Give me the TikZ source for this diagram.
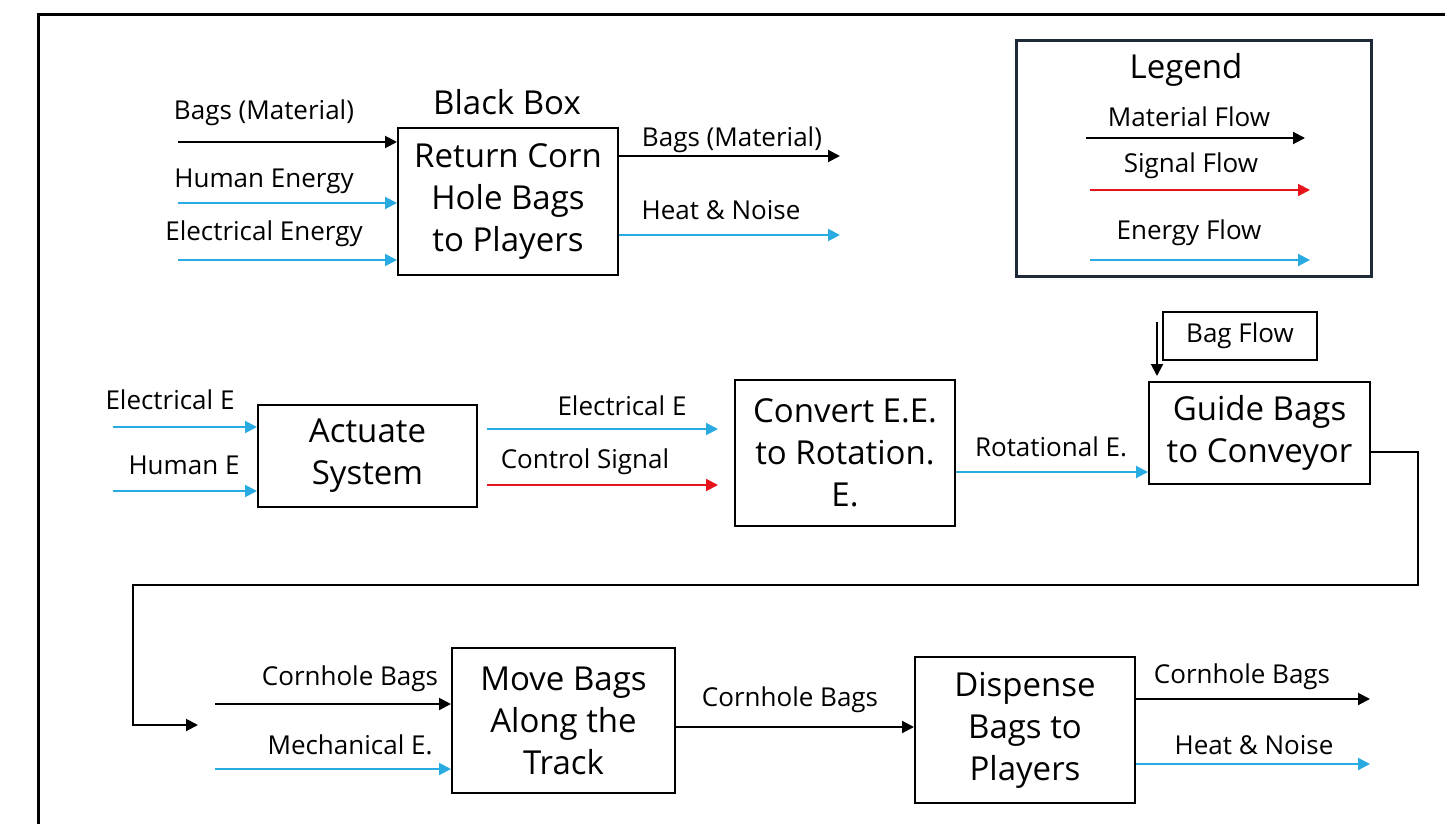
\documentclass[tikz,border=0pt]{standalone}
\usepackage{fontspec}
\setmainfont{Open Sans}
\usetikzlibrary{arrows.meta}
\definecolor{flowblue}{RGB}{41,171,226}
\definecolor{flowred}{RGB}{232,20,27}
\definecolor{legendline}{RGB}{30,42,56}

\begin{document}
\begin{tikzpicture}
                \tikzset{x=0.5pt, y=-0.5pt}
                \tikzstyle{func}=[rectangle, draw, line width=1pt, align=center, inner sep=0pt, font=\fontsize{16.5}{21}\selectfont]
                \tikzstyle{title}=[inner sep=0pt, font=\fontsize{16.5}{21}\selectfont]
                \tikzstyle{lbl}=[inner sep=0pt, font=\fontsize{13}{15}\selectfont]
                \tikzstyle{flow}=[line width=1pt, -{Triangle[length=6pt, width=6pt]}]
                \tikzstyle{material}=[flow, draw=black]
                \tikzstyle{energy}=[flow, draw=flowblue]
                \tikzstyle{signal}=[flow, draw=flowred]

                \useasboundingbox (0,0) rectangle (1445,824);
                \draw[line width=1.5pt] (38,824) -- (38,15) -- (1445,15);

                % black box
                \draw (507,102)     node[title] (bbt)   {Black Box};
                \draw (508,201.5)   node[func, minimum width=110pt, minimum height=73.5pt] (bb) {Return Corn\\Hole Bags\\to Players};
                \draw (264,113)     node[lbl]   (bl1)   {Bags (Material)};
                \draw (264,181)     node[lbl]   (bl2)   {Human Energy};
                \draw (264,234)     node[lbl]   (bl3)   {Electrical Energy};
                \draw (732,140)     node[lbl]   (bl4)   {Bags (Material)};
                \draw (721,210)     node[lbl]   (bl5)   {Heat \& Noise};
                \coordinate (bin1) at (178,142);
                \coordinate (bin2) at (178,203);
                \coordinate (bin3) at (178,260);
                \coordinate (bout1) at (840,156);
                \coordinate (bout2) at (840,235);
                \draw[material]     (bin1) -- (bin1 -| bb.west);
                \draw[energy]       (bin2) -- (bin2 -| bb.west);
                \draw[energy]       (bin3) -- (bin3 -| bb.west);
                \draw[material]     (bout1 -| bb.east) -- (bout1);
                \draw[energy]       (bout2 -| bb.east) -- (bout2);

                % legend
                \draw (1193.5,158.5) node[rectangle, draw=legendline, line width=1.5pt, minimum width=177.5pt, minimum height=117.5pt] (legend) {};
                \draw (1186,70)     node[title] (lgt)   {Legend};
                \draw (1189,117)    node[lbl]   (lg1)   {Material Flow};
                \draw (1191,166)    node[lbl]   (lg2)   {Signal Flow};
                \draw (1189,233)    node[lbl]   (lg3)   {Energy Flow};
                \coordinate (lm1) at (1086,138);  \coordinate (lm2) at (1305,138);
                \coordinate (ls1) at (1090,190);  \coordinate (ls2) at (1310,190);
                \coordinate (le1) at (1090,260);  \coordinate (le2) at (1310,260);
                \draw[material]     (lm1) -- (lm2);
                \draw[signal]       (ls1) -- (ls2);
                \draw[energy]       (le1) -- (le2);

                % second row
                \draw (367.5,456)   node[func, minimum width=109.5pt, minimum height=51pt] (act)  {Actuate\\System};
                \draw (845,453)     node[func, minimum width=110pt, minimum height=73pt]   (conv) {Convert E.E.\\to Rotation.\\E.};
                \draw (1259.5,433)  node[func, minimum width=110.5pt, minimum height=51pt] (guide) {Guide Bags\\to Conveyor};
                \draw (1240,336)    node[lbl, draw, line width=1pt, minimum width=77pt, minimum height=24pt] (bagf) {Bag Flow};
                \draw (170,400)     node[lbl]   (al1)   {Electrical E};
                \draw (184,465)     node[lbl]   (al2)   {Human E};
                \draw (622,406)     node[lbl]   (al3)   {Electrical E};
                \draw (585,462)     node[lbl]   (al4)   {Control Signal};
                \draw (1051,447)    node[lbl]   (al5)   {Rotational E.};
                \coordinate (ain1) at (113,427);
                \coordinate (ain2) at (113,491);
                \coordinate (ce1) at (487,429);   \coordinate (ce2) at (718,429);
                \coordinate (cs1) at (487,485);   \coordinate (cs2) at (718,485);
                \coordinate (rot) at (955,472);
                \coordinate (bf1) at (1157,322);  \coordinate (bf2) at (1157,376);
                \draw[energy]       (ain1) -- (ain1 -| act.west);
                \draw[energy]       (ain2) -- (ain2 -| act.west);
                \draw[energy]       (ce1) -- (ce2);
                \draw[signal]       (cs1) -- (cs2);
                \draw[energy]       (rot -| conv.east) -- (rot -| guide.west);
                \draw[material]     (bf1) -- (bf2);

                % loop down to third row
                \coordinate (lp0) at (1370,452);
                \coordinate (lp1) at (198,725);
                \draw[material]     (lp0 -| guide.east) -- (1418,452) |- (133,585) |- (lp1);

                % third row
                \draw (563.5,720.5) node[func, minimum width=111.5pt, minimum height=72.5pt] (move) {Move Bags\\Along the\\Track};
                \draw (1025,730)    node[func, minimum width=110pt, minimum height=73pt]   (disp) {Dispense\\Bags to\\Players};
                \draw (350,679)     node[lbl]   (ml1)   {Cornhole Bags};
                \draw (350,745)     node[lbl]   (ml2)   {Mechanical E.};
                \draw (790,700)     node[lbl]   (ml3)   {Cornhole Bags};
                \draw (1242,677)    node[lbl]   (dl1)   {Cornhole Bags};
                \draw (1254,745)    node[lbl]   (dl2)   {Heat \& Noise};
                \coordinate (min1) at (215,704);
                \coordinate (min2) at (215,769);
                \coordinate (mid) at (675,727);
                \coordinate (dout1) at (1370,699);
                \coordinate (dout2) at (1370,764);
                \draw[material]     (min1) -- (min1 -| move.west);
                \draw[energy]       (min2) -- (min2 -| move.west);
                \draw[material]     (mid -| move.east) -- (mid -| disp.west);
                \draw[material]     (dout1 -| disp.east) -- (dout1);
                \draw[energy]       (dout2 -| disp.east) -- (dout2);
\end{tikzpicture}
\end{document}
